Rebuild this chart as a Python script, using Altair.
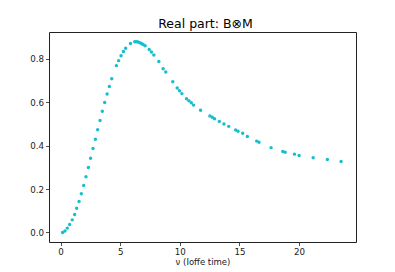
import altair as alt
import pandas as pd

nu = [0.17, 0.37, 0.56, 0.76, 0.98, 1.18, 1.35, 1.55, 1.74, 1.94, 2.13, 2.33, 2.52, 2.72, 2.92,
      3.11, 3.31, 3.50, 3.70, 3.90, 4.09, 4.29, 4.68, 4.87, 5.07, 5.27, 5.46, 5.86,
      6.22, 6.36, 6.50, 6.64, 6.78, 6.92, 7.09,
      7.43, 7.62, 7.82, 8.24, 8.60, 8.82, 9.41, 9.78, 9.97, 10.17, 10.56, 10.76, 10.96, 11.15,
      11.74, 12.52, 12.72, 12.91, 13.31, 13.70, 14.10, 14.68, 14.88, 15.27, 15.66,
      16.44, 16.64, 17.65, 18.63, 18.83, 19.61, 20.00, 21.18, 22.37, 23.52]
real = [0.000, 0.007, 0.020, 0.037, 0.058, 0.083, 0.112, 0.143, 0.178, 0.217, 0.257, 0.299, 0.342, 0.387, 0.430,
        0.473, 0.516, 0.559, 0.599, 0.638, 0.673, 0.709, 0.769, 0.792, 0.815, 0.834, 0.849, 0.871,
        0.879, 0.879, 0.878, 0.875, 0.871, 0.866, 0.861,
        0.843, 0.832, 0.818, 0.788, 0.755, 0.740, 0.695, 0.666, 0.653, 0.640, 0.616, 0.607, 0.598, 0.587,
        0.563, 0.537, 0.531, 0.524, 0.512, 0.500, 0.489, 0.472, 0.467, 0.457, 0.442,
        0.421, 0.416, 0.391, 0.373, 0.370, 0.361, 0.355, 0.344, 0.336, 0.327]

x_ticks = [0, 5, 10, 15, 20]
y_ticks = [0.0, 0.2, 0.4, 0.6, 0.8]

df = pd.DataFrame({"nu": nu, "real": real})

font = "DejaVu Sans"

chart = alt.Chart(df).mark_circle(size=12, color="#17becf", opacity=1).encode(
    x=alt.X("nu:Q",
            scale=alt.Scale(domain=[-0.97, 24.77], nice=False, zero=False),
            axis=alt.Axis(values=x_ticks, title="ν (Ioffe time)", format="d", grid=False)),
    y=alt.Y("real:Q",
            scale=alt.Scale(domain=[-0.044, 0.924], nice=False, zero=False),
            axis=alt.Axis(values=y_ticks, title=None, format=".1f", grid=False)),
).properties(
    width=307,
    height=210,
    title=alt.TitleParams("Real part: B⊗M", font=font, fontSize=12.5, fontWeight="normal",
                          color="#000", offset=5, dy=13, dx=3, anchor="middle", baseline="alphabetic",
                          frame="group"),
    autosize=alt.AutoSizeParams(type="none"),
    padding={"left": 41, "top": 24, "right": 31, "bottom": 26},
).configure_view(
    stroke="#222", strokeWidth=1
).configure_axis(
    domain=False,
    tickColor="#222", tickSize=3.5, tickWidth=0.8,
    labelFont=font, labelFontSize=8.7, labelColor="#222", labelPadding=2,
    titleFont=font, titleFontSize=8.5, titleFontWeight="normal", titleColor="#222", titlePadding=1,
)

chart.save("out.html", embed_options={"renderer": "svg", "actions": False})
